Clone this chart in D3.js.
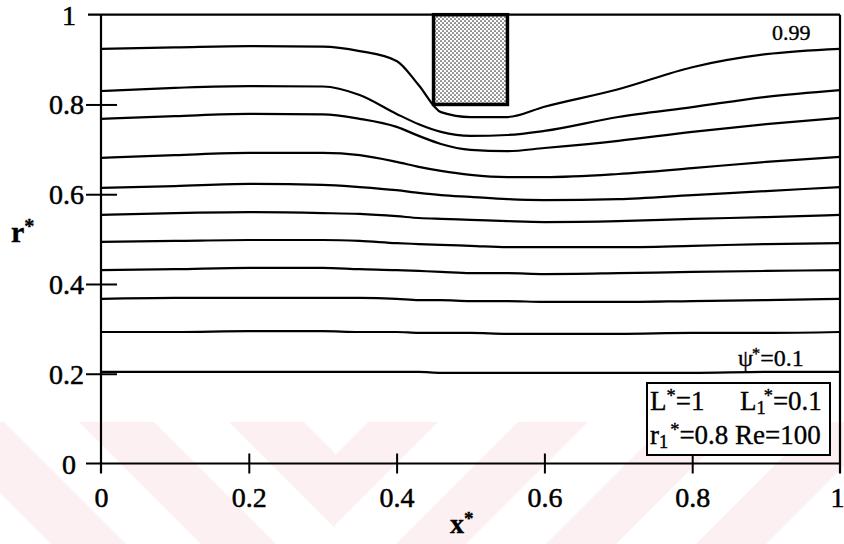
<!DOCTYPE html>
<html>
<head>
<meta charset="utf-8">
<script src="https://cdn.jsdelivr.net/npm/d3@7"></script>
<style>
    html, body { margin: 0; padding: 0; background: #fff; }
    svg { display: block; font-family: "Liberation Serif", "Times New Roman", serif; }
</style>
</head>
<body>
<div id="chart"></div>
<script>
//axial stations where the streamlines were read
var xGrid = [0, 0.1, 0.2, 0.3, 0.35, 0.4, 0.43, 0.46, 0.5, 0.55, 0.6, 0.7, 0.8, 0.9, 1];

//radial position of each streamline (top psi*=0.99 down to psi*=0.1)
var stream1 = [0.924, 0.927, 0.930, 0.929, 0.919, 0.897, 0.843, 0.783, 0.772, 0.772, 0.795, 0.834, 0.883, 0.912, 0.924];
var stream2 = [0.830, 0.837, 0.841, 0.840, 0.821, 0.779, 0.756, 0.739, 0.730, 0.732, 0.741, 0.772, 0.794, 0.817, 0.832];
var stream3 = [0.768, 0.774, 0.779, 0.778, 0.768, 0.750, 0.730, 0.712, 0.699, 0.696, 0.703, 0.719, 0.739, 0.756, 0.770];
var stream4 = [0.681, 0.687, 0.692, 0.692, 0.687, 0.672, 0.661, 0.652, 0.643, 0.638, 0.638, 0.645, 0.658, 0.672, 0.683];
var stream5 = [0.614, 0.618, 0.623, 0.621, 0.616, 0.609, 0.603, 0.598, 0.594, 0.589, 0.587, 0.589, 0.598, 0.607, 0.616];
var stream6 = [0.554, 0.558, 0.560, 0.558, 0.556, 0.551, 0.547, 0.545, 0.543, 0.540, 0.538, 0.540, 0.545, 0.549, 0.554];
var stream7 = [0.494, 0.496, 0.498, 0.498, 0.496, 0.491, 0.489, 0.487, 0.485, 0.482, 0.482, 0.482, 0.485, 0.489, 0.491];
var stream8 = [0.431, 0.433, 0.436, 0.436, 0.433, 0.431, 0.429, 0.427, 0.424, 0.424, 0.422, 0.424, 0.427, 0.429, 0.431];
var stream9 = [0.367, 0.369, 0.369, 0.369, 0.369, 0.367, 0.364, 0.364, 0.362, 0.362, 0.360, 0.360, 0.362, 0.364, 0.367];
var stream10 = [0.293, 0.293, 0.295, 0.295, 0.293, 0.293, 0.291, 0.291, 0.291, 0.289, 0.289, 0.289, 0.291, 0.291, 0.293];
var stream11 = [0.204, 0.204, 0.204, 0.204, 0.204, 0.204, 0.204, 0.202, 0.202, 0.202, 0.202, 0.202, 0.202, 0.204, 0.204];
var streams = [stream1, stream2, stream3, stream4, stream5, stream6, stream7, stream8, stream9, stream10, stream11];

//obstacle (ring) extent
var blockX = [0.45, 0.55];
var blockR = [0.8, 1];

//tick values
var xTicks = [0, 0.2, 0.4, 0.6, 0.8, 1];
var yTicks = [0, 0.2, 0.4, 0.6, 0.8, 1];

(function () {
    var width = 844,
        height = 544,
        fontSize = 28,
        serif = '"Liberation Serif", "Times New Roman", serif';

    //create scales
    var xScale = d3.scaleLinear().domain([0, 1]).range([101, 840]),
        yScale = d3.scaleLinear().domain([0, 1]).range([463.5, 14.7]);

    var svg = d3.select('#chart').append('svg')
        .attr('width', width)
        .attr('height', height);

    //stipple pattern for the obstacle
    var defs = svg.append('defs');
    var pat = defs.append('pattern')
        .attr('id', 'dots')
        .attr('width', 4).attr('height', 4)
        .attr('patternUnits', 'userSpaceOnUse');
    pat.append('rect').attr('width', 4).attr('height', 4).attr('fill', '#fff');
    pat.append('circle').attr('cx', 1).attr('cy', 1).attr('r', 0.85).attr('fill', '#333');
    pat.append('circle').attr('cx', 3).attr('cy', 3).attr('r', 0.85).attr('fill', '#333');

    //faint scan watermark stripes at the bottom
    defs.append('clipPath').attr('id', 'wmLeft').append('rect')
        .attr('x', 0).attr('y', 422).attr('width', 335).attr('height', 122);
    defs.append('clipPath').attr('id', 'wmRight').append('rect')
        .attr('x', 335).attr('y', 422).attr('width', 509).attr('height', 122);
    var wmL = svg.append('g').attr('clip-path', 'url(#wmLeft)').attr('fill', '#fdf0f2');
    var wmR = svg.append('g').attr('clip-path', 'url(#wmRight)').attr('fill', '#fdf0f2');
    d3.range(-2, 4).forEach(function (i) {
        var a = i * 150 + 77;
        wmL.append('path').attr('d', 'M' + a + ',420L' + (a + 75) + ',420L' + (a + 199) + ',544L' + (a + 124) + ',544Z');
    });
    d3.range(0, 6).forEach(function (i) {
        var a = 370 + i * 150;
        wmR.append('path').attr('d', 'M' + a + ',420L' + (a + 70) + ',420L' + (a - 54) + ',544L' + (a - 124) + ',544Z');
    });

    //streamlines
    var line = d3.line()
        .x(function (d, i) { return xScale(xGrid[i]); })
        .y(function (d) { return yScale(d); })
        .curve(d3.curveMonotoneX);

    svg.append('g').selectAll('path')
        .data(streams)
        .enter().append('path')
        .attr('d', line)
        .attr('fill', 'none')
        .attr('stroke', '#000')
        .attr('stroke-width', 2.2);

    //frame lines
    var frame = svg.append('g').attr('stroke', '#000').attr('stroke-width', 2.2);
    frame.append('line')
        .attr('x1', xScale(0) - 13).attr('x2', xScale(1))
        .attr('y1', yScale(1)).attr('y2', yScale(1));
    frame.append('line')
        .attr('x1', xScale(0) - 15).attr('x2', xScale(1))
        .attr('y1', yScale(0)).attr('y2', yScale(0));
    frame.append('line')
        .attr('x1', xScale(0)).attr('x2', xScale(0))
        .attr('y1', yScale(1)).attr('y2', yScale(0) + 10);
    frame.append('line')
        .attr('x1', xScale(1)).attr('x2', xScale(1))
        .attr('y1', yScale(1)).attr('y2', yScale(0) + 10);

    //x axis
    var xAxis = svg.append('g')
        .attr('transform', 'translate(0,' + yScale(0) + ')')
        .call(d3.axisBottom(xScale).tickValues(xTicks).tickFormat(d3.format('')).tickSize(0))
        .attr('font-family', serif)
        .attr('font-size', fontSize);
    xAxis.select('.domain').remove();
    xAxis.selectAll('.tick line')
        .attr('stroke', '#000').attr('stroke-width', 2)
        .attr('y1', -10).attr('y2', 10)
        .attr('display', function (d) { return d === 0 || d === 1 ? 'none' : null; });
    xAxis.selectAll('.tick text')
        .attr('fill', '#000')
        .attr('stroke', '#000').attr('stroke-width', 0.5)
        .attr('dy', null)
        .attr('y', 43)
        .attr('x', function (d) { return d === 1 ? -3 : 0; });

    //y axis
    var yAxis = svg.append('g')
        .attr('transform', 'translate(' + xScale(0) + ',0)')
        .call(d3.axisLeft(yScale).tickValues(yTicks).tickFormat(d3.format('')).tickSize(0))
        .attr('font-family', serif)
        .attr('font-size', fontSize);
    yAxis.select('.domain').remove();
    yAxis.selectAll('.tick line')
        .attr('stroke', '#000').attr('stroke-width', 2)
        .attr('x1', -15).attr('x2', 16)
        .attr('display', function (d) { return d === 0 || d === 1 ? 'none' : null; });
    yAxis.selectAll('.tick text')
        .attr('fill', '#000')
        .attr('stroke', '#000').attr('stroke-width', 0.5)
        .attr('dy', '0.34em')
        .attr('x', function (d) { return d === 0 || d === 1 ? -25 : -17; });

    //obstacle
    svg.append('rect')
        .attr('x', xScale(blockX[0]))
        .attr('y', yScale(blockR[1]))
        .attr('width', xScale(blockX[1]) - xScale(blockX[0]))
        .attr('height', yScale(blockR[0]) - yScale(blockR[1]))
        .attr('fill', 'url(#dots)')
        .attr('stroke', '#000')
        .attr('stroke-width', 3.5);

    //parameter box
    svg.append('rect')
        .attr('x', 647).attr('y', 383)
        .attr('width', 183).attr('height', 72)
        .attr('fill', '#fff')
        .attr('stroke', '#000')
        .attr('stroke-width', 2);

    //writes text with sub/superscript parts
    var richText = function (g, x, y, parts, size, weight) {
        var t = g.append('text')
            .attr('x', x).attr('y', y)
            .attr('font-size', size)
            .attr('font-weight', weight || 'normal');
        var shift = 0;
        parts.forEach(function (p) {
            var target = p[1] === 'sup' ? -0.3 * size : p[1] === 'sub' ? 0.14 * size : 0;
            var ts = t.append('tspan')
                .attr('dy', target - shift)
                .attr('font-size', p[1] === 'n' ? size : size * 0.68)
                .text(p[0]);
            if (p[2]) ts.attr('dx', p[2]);
            shift = target;
        });
        return t;
    };

    var notes = svg.append('g')
        .attr('fill', '#000')
        .attr('stroke', '#000')
        .attr('stroke-width', 0.35);

    //contour labels
    notes.append('text').attr('x', 772).attr('y', 40).attr('font-size', 22).text('0.99');
    richText(notes, 738, 366, [['ψ', 'n'], ['*', 'sup', -1], ['=0.1', 'n']], 24);

    //axis titles
    richText(notes, 11, 242, [['r', 'n'], ['*', 'sup']], 30, 'bold');
    richText(notes, 450, 533, [['x', 'n'], ['*', 'sup']], 28, 'bold');

    //parameter text
    richText(notes, 650, 410, [['L', 'n'], ['*', 'sup'], ['=1', 'n']], 27);
    richText(notes, 740, 410, [['L', 'n'], ['1', 'sub'], ['*', 'sup', -2], ['=0.1', 'n']], 27);
    richText(notes, 650, 444, [['r', 'n'], ['1', 'sub'], ['*', 'sup', 2], ['=0.8', 'n']], 27);
    notes.append('text').attr('x', 735).attr('y', 444).attr('font-size', 27).text('Re=100');
})();
</script>
</body>
</html>
